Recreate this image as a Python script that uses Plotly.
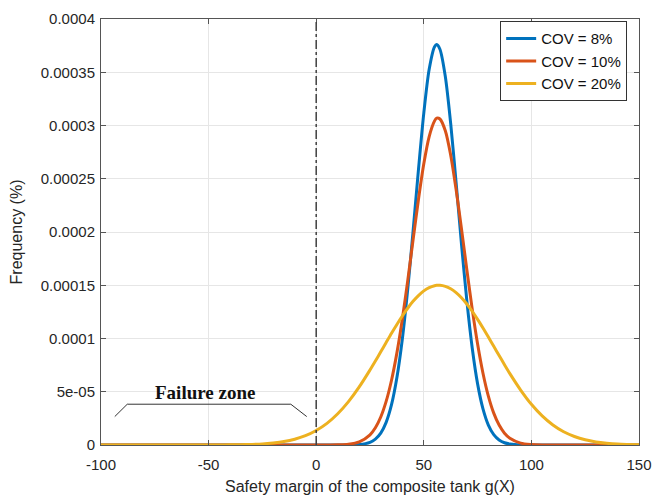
import plotly.graph_objects as go

# x positions of the read-off points
x_vals = [-100, -95, -90, -85, -80, -75, -70, -65, -60, -55, -50, -45, -40, -35, -30, -25, -20, -15, -10, -5,
          0, 5, 10, 15, 20,
          25, 27.5, 30, 32.5, 35, 37.5, 40, 42.5, 45, 47.5, 50, 52.5, 55, 56, 57.5, 60, 62.5, 65, 67.5, 70, 72.5,
          75, 77.5, 80, 82.5, 85, 87.5,
          90, 95, 100, 105, 110, 115, 120, 125, 130, 135, 140, 145, 150]

cov8 = [0] * 24 + [0.0000004,
        0.0000025, 0.0000055, 0.0000111, 0.0000212, 0.0000378, 0.0000633, 0.0000991, 0.0001456, 0.0002003, 0.0002581,
        0.0003117, 0.0003528, 0.000374, 0.000376, 0.0003716, 0.000346, 0.0003017, 0.0002467, 0.0001889, 0.0001355, 0.0000911,
        0.0000574, 0.0000339, 0.0000187, 0.0000097, 0.0000047, 0.0000021,
        0.0000009] + [0] * 12

cov10 = [0] * 22 + [0.0000002, 0.00000075, 0.0000029,
         0.0000096, 0.0000162, 0.0000263, 0.0000409, 0.0000608, 0.0000865, 0.0001179, 0.0001539, 0.0001924, 0.0002303,
         0.000264, 0.0002896, 0.0003043, 0.000307, 0.0003061, 0.000295, 0.0002721, 0.00024, 0.0002032, 0.0001646, 0.0001276,
         0.0000948, 0.0000674, 0.0000459, 0.0000299, 0.0000187, 0.0000111,
         0.0000064, 0.0000018, 0.00000044] + [0] * 10

cov20 = [0] * 11 + [0.00000007, 0.00000014, 0.00000029, 0.00000056, 0.000001, 0.0000019, 0.0000032, 0.0000054, 0.0000087,
         0.0000136, 0.0000203, 0.0000293, 0.0000407, 0.0000545,
         0.0000704, 0.0000788, 0.0000875, 0.0000962, 0.0001049, 0.0001132, 0.0001211, 0.0001284, 0.0001349, 0.0001403,
         0.0001447, 0.0001478, 0.0001496, 0.0001499, 0.00015, 0.000149, 0.0001467, 0.0001431, 0.0001383, 0.0001324, 0.0001256,
         0.000118, 0.0001099, 0.0001014, 0.0000927, 0.000084, 0.0000754,
         0.000067, 0.0000516, 0.0000382, 0.0000273, 0.0000188, 0.0000124, 0.000008, 0.0000049, 0.0000029, 0.0000017,
         0.0000009, 0.0000005, 0.0000002]

series_names = ["COV = 8%", "COV = 10%", "COV = 20%"]
series_colors = ["#0072BD", "#D95319", "#EDB120"]

x_ticks = [-100, -50, 0, 50, 100, 150]
x_tick_labels = ["-100", "-50", "0", "50", "100", "150"]
y_ticks = [0, 0.00005, 0.0001, 0.00015, 0.0002, 0.00025, 0.0003, 0.00035, 0.0004]
y_tick_labels = ["0", "5e-05", "0.0001", "0.00015", "0.0002", "0.00025", "0.0003", "0.00035", "0.0004"]

# failure zone bracket (annotation)
bracket_x = [-93.6, -87.8, -11.8, -4.4]
bracket_y = [0.0000267, 0.0000383, 0.0000383, 0.0000267]

fig = go.Figure()
for name, ys, col in zip(series_names, [cov8, cov10, cov20], series_colors):
    fig.add_trace(go.Scatter(x=x_vals, y=ys, mode="lines", name=name,
                             line=dict(color=col, width=3, shape="spline", smoothing=0.8)))

fig.add_shape(type="line", x0=0, x1=0, y0=0, y1=0.0004, xref="x", yref="y",
              line=dict(color="#404040", width=1.5, dash="dashdot"))

path = "M {} {} L {} {} L {} {} L {} {}".format(
    bracket_x[0], bracket_y[0], bracket_x[1], bracket_y[1], bracket_x[2], bracket_y[2], bracket_x[3], bracket_y[3])
fig.add_shape(type="path", path=path, xref="x", yref="y", line=dict(color="#333333", width=1))

fig.add_annotation(x=-51.5, y=0.0000495, xref="x", yref="y", text="<b>Failure zone</b>", showarrow=False,
                   font=dict(family="Liberation Serif, Times New Roman, serif", size=19, color="#111111"))

axis_common = dict(showgrid=True, gridcolor="#e6e6e6", gridwidth=1, zeroline=False, showline=True,
                   linecolor="#555555", linewidth=1, mirror="ticks", ticks="inside", ticklen=5,
                   tickcolor="#555555", tickfont=dict(size=15, color="#262626"))

fig.update_xaxes(range=[-100, 150], tickvals=x_ticks, ticktext=x_tick_labels, ticklabelstandoff=6,
                 title=dict(text="Safety margin of the composite tank g(X)", font=dict(size=16, color="#262626"), standoff=8),
                 **axis_common)
fig.update_yaxes(range=[0, 0.0004], tickvals=y_ticks, ticktext=y_tick_labels, ticklabelstandoff=2,
                 title=dict(text="Frequency (%)", font=dict(size=16, color="#262626"), standoff=14),
                 **axis_common)

fig.update_layout(
    width=662, height=502,
    margin=dict(l=101, r=16, t=10, b=57),
    paper_bgcolor="white", plot_bgcolor="white",
    font=dict(family="Liberation Sans, Arial, sans-serif", color="#262626"),
    showlegend=True,
    legend=dict(x=0.978, y=0.995, xanchor="right", yanchor="top", bgcolor="white",
                bordercolor="#333333", borderwidth=1, font=dict(size=15, color="#111111"),
                tracegroupgap=0),
)

fig.write_html("out.html")
